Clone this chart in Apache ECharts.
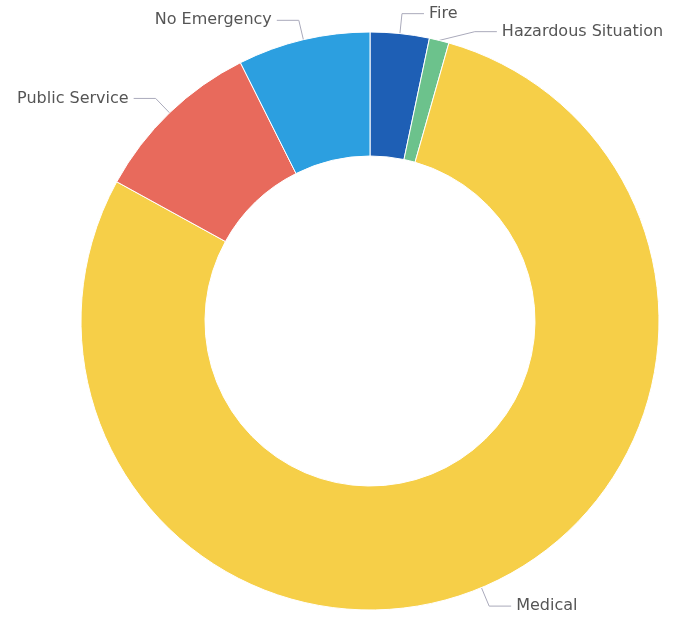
<!DOCTYPE html>
<html>
<head>
<meta charset="utf-8">
<script src="https://cdn.jsdelivr.net/npm/echarts@6/dist/echarts.min.js"></script>
<style>html,body{margin:0;padding:0;background:#fff;}#c{width:674px;height:622px;}</style>
</head>
<body>
<div id="c"></div>
<script>
const categories = ['Fire', 'Hazardous Situation', 'Medical', 'Public Service', 'No Emergency'];
const values = [33, 11, 786, 96, 74];
const colors = ['#1e5fb5', '#6cc28c', '#f6cf48', '#e86a5c', '#2c9fe0'];

const chart = echarts.init(document.getElementById('c'));
chart.setOption({
  animation: false,
  series: [{
    type: 'pie',
    center: [370, 321],
    radius: [165, 289],
    startAngle: 90,
    clockwise: true,
    avoidLabelOverlap: true,
    data: categories.map((n, i) => ({ name: n, value: values[i], itemStyle: { color: colors[i] } })),
    itemStyle: { borderColor: '#fff', borderWidth: 1 },
    label: { show: true, formatter: '{b}', color: '#555', fontSize: 16, fontFamily: 'DejaVu Sans' },
    labelLine: { show: true, length: 20, length2: 22, lineStyle: { color: '#aab', width: 1 } }
  }]
});
</script>
</body>
</html>
